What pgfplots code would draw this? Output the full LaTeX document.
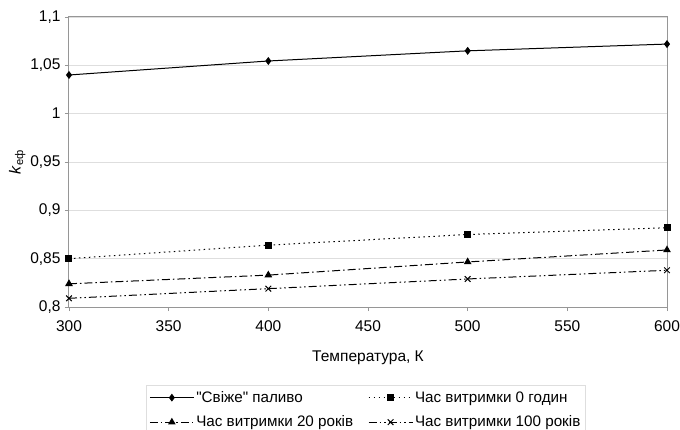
\documentclass[border=0pt]{standalone}
\usepackage{pgfplots}
\pgfplotsset{compat=1.18}
\usepackage{fontspec}
\setmainfont{Liberation Sans}[Ligatures=TeXOff]
\definecolor{axgray}{RGB}{150,150,150}
\definecolor{gridgray}{RGB}{222,222,222}
\begin{document}
\begin{tikzpicture}[x=1bp,y=1bp]
\useasboundingbox (-69bp,-123bp) rectangle (611bp,307bp);
\begin{axis}[
  at={(0,0)}, anchor=south west,
  width=598bp, height=290bp, scale only axis,
  xmin=300, xmax=600, ymin=0.8, ymax=1.1,
  xtick={300,350,...,600},
  ytick={0.8,0.85,0.9,0.95,1,1.05,1.1},
  /pgf/number format/use comma,
  /pgf/number format/assume math mode=true,
  /pgf/number format/1000 sep={},
  ticklabel style={font=\fontsize{15.5bp}{17bp}\selectfont},
  xticklabel style={yshift=-6bp},
  yticklabel style={xshift=-1bp},
  tick align=outside, tick pos=left,
  major tick length=4bp,
  tick style={axgray, line width=0.8bp},
  axis line style={axgray, line width=1bp},
  ymajorgrids, grid style={gridgray, line width=0.9bp},
  xlabel={Температура, К},
  xlabel style={font=\fontsize{15.5bp}{17bp}\selectfont, yshift=-12bp},
  ylabel={\textit{k}\textsubscript{еф}},
  ylabel style={font=\fontsize{16bp}{18bp}\selectfont, yshift=-2bp},
  legend columns=2,
  legend cell align=left,
  legend style={at={(0.1288,-0.269)}, anchor=north west,
    draw=gridgray, line width=0.8bp,
    font=\fontsize{15.2bp}{17bp}\selectfont,
    row sep=8bp, inner xsep=3bp, inner ysep=4bp,
    /tikz/every even column/.append style={column sep=13bp}},
  legend image code/.code={%
    \draw[mark repeat=2,mark phase=2,line width=0.9bp]
      plot coordinates {(0bp,0bp) (22bp,0bp) (44bp,0bp)};},
]
\addplot[black, line width=1bp, mark=diamond*, mark size=3.2bp, mark options={solid}]
  coordinates {(300,1.040) (400,1.0545) (500,1.065) (600,1.072)};
\addlegendentry{"Свіже" паливо}
\addplot[black, line width=1bp, dash pattern=on 1.5bp off 3.5bp, mark=square*, mark size=3bp, mark options={solid}]
  coordinates {(300,0.850) (400,0.864) (500,0.875) (600,0.882)};
\addlegendentry{Час витримки 0 годин}
\addplot[black, line width=1bp, dash pattern=on 8bp off 3bp on 1.5bp off 3bp, mark=triangle*, mark size=3.5bp, mark options={solid}]
  coordinates {(300,0.824) (400,0.833) (500,0.8466) (600,0.859)};
\addlegendentry{Час витримки 20 років}
\addplot[black, line width=1bp, dash pattern=on 8bp off 3bp on 1.5bp off 3bp on 1.5bp off 3bp, mark=x, mark size=4bp, mark options={solid, line width=1bp}]
  coordinates {(300,0.809) (400,0.819) (500,0.829) (600,0.838)};
\addlegendentry{Час витримки 100 років}
\end{axis}
\end{tikzpicture}
\end{document}
